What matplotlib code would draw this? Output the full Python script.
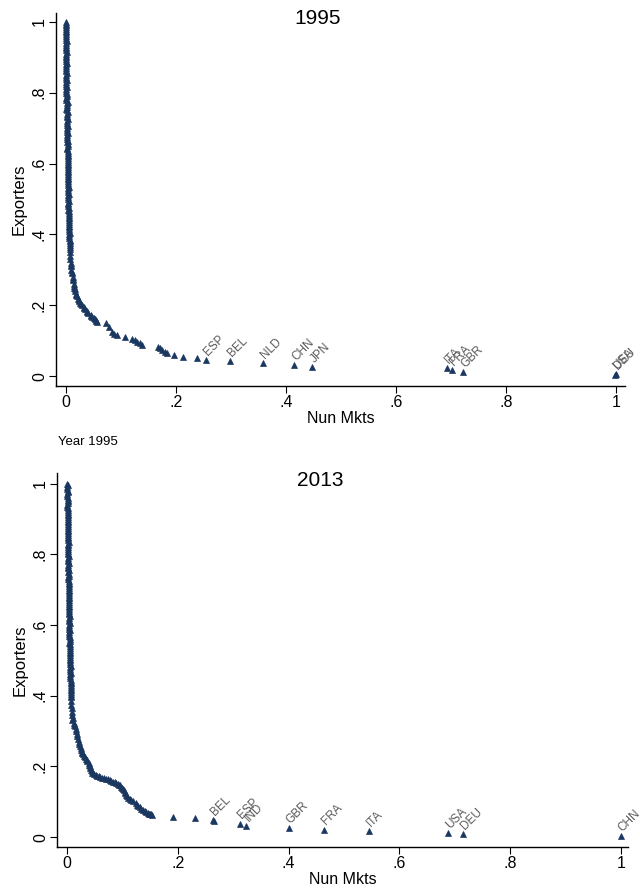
import matplotlib
matplotlib.use("Agg")
import matplotlib.pyplot as plt

plt.rcParams['font.family'] = ['Liberation Sans', 'DejaVu Sans']

# ---------------- 1995 data ----------------
x95 = [0.000, 0.000, 0.001, 0.000, 0.001, 0.001, 0.000, 0.001, 0.001, 0.001,
       0.001, 0.001, 0.001, 0.001, 0.001, 0.001, 0.001, 0.001, 0.001, 0.001,
       0.001, 0.002, 0.001, 0.002, 0.002, 0.002, 0.002, 0.002, 0.002, 0.002,
       0.002, 0.002, 0.002, 0.002, 0.002, 0.003, 0.002, 0.003, 0.003, 0.003,
       0.003, 0.003, 0.003, 0.003, 0.003, 0.003, 0.004, 0.003, 0.004, 0.004,
       0.004, 0.004, 0.004, 0.004, 0.005, 0.005, 0.005, 0.005, 0.005, 0.006,
       0.006, 0.006, 0.007, 0.007, 0.007, 0.008, 0.008, 0.008, 0.009, 0.009,
       0.010, 0.011, 0.012, 0.013, 0.014, 0.015, 0.017, 0.018, 0.020, 0.022,
       0.024, 0.026, 0.029, 0.032, 0.035, 0.038, 0.041, 0.045, 0.048, 0.051,
       0.054, 0.057, 0.072, 0.078, 0.084, 0.088, 0.093, 0.108, 0.120, 0.125,
       0.129, 0.134, 0.138, 0.167, 0.171, 0.175, 0.180, 0.184, 0.196, 0.213,
       0.238]
y95 = [1.000, 0.990, 0.980, 0.970, 0.960, 0.950, 0.940, 0.930, 0.920, 0.910,
       0.900, 0.890, 0.880, 0.870, 0.860, 0.850, 0.840, 0.830, 0.820, 0.810,
       0.800, 0.790, 0.780, 0.770, 0.760, 0.750, 0.740, 0.730, 0.720, 0.710,
       0.700, 0.690, 0.680, 0.670, 0.660, 0.650, 0.640, 0.630, 0.620, 0.610,
       0.600, 0.590, 0.580, 0.570, 0.560, 0.550, 0.540, 0.530, 0.520, 0.510,
       0.500, 0.490, 0.480, 0.470, 0.460, 0.450, 0.440, 0.430, 0.420, 0.410,
       0.400, 0.390, 0.380, 0.370, 0.360, 0.350, 0.340, 0.330, 0.320, 0.310,
       0.300, 0.290, 0.280, 0.270, 0.260, 0.250, 0.240, 0.232, 0.225, 0.218,
       0.212, 0.206, 0.200, 0.194, 0.188, 0.183, 0.178, 0.173, 0.168, 0.163,
       0.158, 0.153, 0.149, 0.139, 0.125, 0.120, 0.116, 0.109, 0.106, 0.101,
       0.097, 0.092, 0.088, 0.083, 0.078, 0.073, 0.069, 0.066, 0.059, 0.055,
       0.050]
# further small exporters filling the dense column (1995)
x95b = [0.001, 0.000, 0.001, 0.000, 0.001, 0.002, 0.000, 0.001, 0.002, 0.001,
        0.000, 0.002, 0.001, 0.001, 0.002, 0.001, 0.002, 0.001, 0.002, 0.001,
        0.002, 0.001, 0.003, 0.002, 0.001, 0.003, 0.002, 0.003, 0.002, 0.003,
        0.002, 0.003, 0.002, 0.003, 0.003, 0.002, 0.003, 0.004, 0.003, 0.004,
        0.003, 0.004, 0.003, 0.004, 0.004, 0.003, 0.005, 0.004, 0.005, 0.004,
        0.005, 0.004, 0.005, 0.006, 0.005, 0.006, 0.005, 0.006, 0.006, 0.007,
        0.006, 0.007, 0.007, 0.008,
        0.0095, 0.0105, 0.0125, 0.0145, 0.016, 0.019, 0.023, 0.027, 0.033,
        0.039, 0.046, 0.052, 0.055]
y95b = [0.995, 0.985, 0.975, 0.965, 0.955, 0.945, 0.935, 0.925, 0.915, 0.905,
        0.895, 0.885, 0.875, 0.865, 0.855, 0.845, 0.835, 0.825, 0.815, 0.805,
        0.795, 0.785, 0.775, 0.765, 0.755, 0.745, 0.735, 0.725, 0.715, 0.705,
        0.695, 0.685, 0.675, 0.665, 0.655, 0.645, 0.635, 0.625, 0.615, 0.605,
        0.595, 0.585, 0.575, 0.565, 0.555, 0.545, 0.535, 0.525, 0.515, 0.505,
        0.495, 0.485, 0.475, 0.465, 0.455, 0.445, 0.435, 0.425, 0.415, 0.405,
        0.395, 0.385, 0.375, 0.365,
        0.315, 0.295, 0.275, 0.255, 0.245, 0.228, 0.215, 0.203, 0.191,
        0.180, 0.170, 0.160, 0.155]
lab95 = ["ESP", "BEL", "NLD", "CHN", "JPN", "ITA", "FRA", "GBR", "DEU", "USA"]
lx95 = [0.255, 0.298, 0.358, 0.415, 0.448, 0.692, 0.701, 0.722, 1.000, 0.998]
ly95 = [0.045, 0.042, 0.036, 0.031, 0.026, 0.022, 0.017, 0.012, 0.006, 0.004]

# ---------------- 2013 data ----------------
x13 = [0.000, 0.000, 0.001, 0.000, 0.001, 0.001, 0.000, 0.001, 0.001, 0.001,
       0.001, 0.001, 0.001, 0.001, 0.001, 0.002, 0.001, 0.002, 0.002, 0.002,
       0.002, 0.002, 0.002, 0.002, 0.002, 0.002, 0.003, 0.002, 0.003, 0.003,
       0.003, 0.003, 0.003, 0.003, 0.003, 0.003, 0.004, 0.003, 0.004, 0.004,
       0.004, 0.004, 0.004, 0.004, 0.005, 0.004, 0.005, 0.005, 0.005, 0.005,
       0.005, 0.005, 0.006, 0.006, 0.006, 0.006, 0.007, 0.007, 0.007, 0.008,
       0.008, 0.009, 0.012, 0.015, 0.017, 0.019, 0.021, 0.023, 0.026, 0.028,
       0.031, 0.034, 0.037, 0.039, 0.041, 0.043, 0.046, 0.052, 0.058, 0.063,
       0.070, 0.077, 0.083, 0.089, 0.094, 0.098, 0.101, 0.104, 0.107, 0.110,
       0.116, 0.125, 0.129, 0.134, 0.140, 0.146, 0.150, 0.154, 0.191, 0.231,
       0.266]
y13 = [1.000, 0.990, 0.980, 0.970, 0.960, 0.950, 0.940, 0.930, 0.920, 0.910,
       0.900, 0.890, 0.880, 0.870, 0.860, 0.850, 0.840, 0.830, 0.820, 0.810,
       0.800, 0.790, 0.780, 0.770, 0.760, 0.750, 0.740, 0.730, 0.720, 0.710,
       0.700, 0.690, 0.680, 0.670, 0.660, 0.650, 0.640, 0.630, 0.620, 0.610,
       0.600, 0.590, 0.580, 0.570, 0.560, 0.550, 0.540, 0.530, 0.520, 0.510,
       0.500, 0.490, 0.480, 0.470, 0.460, 0.450, 0.440, 0.430, 0.420, 0.410,
       0.400, 0.332, 0.322, 0.313, 0.300, 0.285, 0.270, 0.258, 0.246, 0.238,
       0.230, 0.222, 0.214, 0.209, 0.200, 0.190, 0.181, 0.175, 0.172, 0.168,
       0.165, 0.162, 0.157, 0.153, 0.148, 0.143, 0.136, 0.129, 0.120, 0.110,
       0.106, 0.096, 0.088, 0.080, 0.073, 0.068, 0.065, 0.063, 0.058, 0.054,
       0.045]
# further small exporters filling the dense column (2013)
x13b = [0.001, 0.000, 0.001, 0.000, 0.002, 0.001, 0.000, 0.002, 0.001, 0.002,
        0.001, 0.002, 0.001, 0.002, 0.001, 0.002, 0.003, 0.002, 0.001, 0.002,
        0.003, 0.002, 0.003, 0.002, 0.004, 0.003, 0.002, 0.003, 0.004, 0.003,
        0.004, 0.003, 0.004, 0.003, 0.004, 0.003, 0.004, 0.005, 0.004, 0.005,
        0.004, 0.005, 0.004, 0.006, 0.005, 0.006, 0.005, 0.006, 0.005, 0.006,
        0.006, 0.007, 0.006, 0.007, 0.006, 0.007, 0.007, 0.008, 0.007, 0.008,
        0.008, 0.008, 0.008, 0.009, 0.009, 0.009, 0.010,
        0.0135, 0.016, 0.018, 0.020, 0.022, 0.0245, 0.027, 0.0295, 0.0325,
        0.0355, 0.040, 0.042, 0.0445, 0.049, 0.055, 0.0605, 0.0665, 0.0735,
        0.080, 0.086, 0.0915, 0.096, 0.0995, 0.1025, 0.1055, 0.1085, 0.113,
        0.120, 0.127, 0.1315, 0.137, 0.143, 0.148, 0.152]
y13b = [0.995, 0.985, 0.975, 0.965, 0.955, 0.945, 0.935, 0.925, 0.915, 0.905,
        0.895, 0.885, 0.875, 0.865, 0.855, 0.845, 0.835, 0.825, 0.815, 0.805,
        0.795, 0.785, 0.775, 0.765, 0.755, 0.745, 0.735, 0.725, 0.715, 0.705,
        0.695, 0.685, 0.675, 0.665, 0.655, 0.645, 0.635, 0.625, 0.615, 0.605,
        0.595, 0.585, 0.575, 0.565, 0.555, 0.545, 0.535, 0.525, 0.515, 0.505,
        0.495, 0.485, 0.475, 0.465, 0.455, 0.445, 0.435, 0.425, 0.415, 0.405,
        0.395, 0.385, 0.375, 0.365, 0.355, 0.345, 0.338,
        0.318, 0.306, 0.292, 0.277, 0.264, 0.252, 0.242, 0.234, 0.226,
        0.218, 0.205, 0.195, 0.186, 0.178, 0.173, 0.170, 0.167, 0.163,
        0.160, 0.155, 0.150, 0.146, 0.140, 0.133, 0.125, 0.115, 0.108,
        0.101, 0.092, 0.084, 0.077, 0.070, 0.066, 0.064]
lab13 = ["BEL", "ESP", "IND", "GBR", "FRA", "ITA", "USA", "DEU", "CHN"]
lx13 = [0.263, 0.312, 0.324, 0.400, 0.464, 0.545, 0.688, 0.715, 1.000]
ly13 = [0.048, 0.038, 0.031, 0.025, 0.021, 0.016, 0.011, 0.008, 0.002]

xticks = [0, 0.2, 0.4, 0.6, 0.8, 1.0]
xticklabels = ["0", ".2", ".4", ".6", ".8", "1"]
yticks = [0, 0.2, 0.4, 0.6, 0.8, 1.0]
yticklabels = ["0", ".2", ".4", ".6", ".8", "1"]

NAVY = "#1a3760"
GREY = "#5a5a5a"

fig = plt.figure(figsize=(6.4, 8.89), dpi=100)
W, H = 640.0, 889.0


def make_ax(left, right, top, bottom):
    return fig.add_axes([left / W, 1 - bottom / H, (right - left) / W, (bottom - top) / H])


def style(ax, xlim, ylim):
    ax.set_xlim(*xlim)
    ax.set_ylim(*ylim)
    for s in ("top", "right"):
        ax.spines[s].set_visible(False)
    for s in ("left", "bottom"):
        ax.spines[s].set_linewidth(1.0)
    ax.set_xticks(xticks)
    ax.set_xticklabels(xticklabels, fontsize=11.5)
    ax.set_yticks(yticks)
    ax.set_yticklabels(yticklabels, fontsize=11.5, rotation=90, va="center")
    ax.tick_params(direction="out", length=5, width=0.8, pad=1.5)
    ax.set_xlabel("Nun Mkts", fontsize=11.5, labelpad=1)
    ax.set_ylabel("Exporters", fontsize=12, labelpad=4)


def draw(ax, xs, ys, lab, lx, ly):
    ax.plot(xs, ys, marker="^", ms=4.6, mew=0.5, color=NAVY, mec=NAVY,
            ls="none", clip_on=False)
    ax.plot(lx, ly, marker="^", ms=4.6, mew=0.5, color=NAVY, mec=NAVY,
            ls="none", clip_on=False)
    for t, xx, yy in zip(lab, lx, ly):
        ax.annotate(t, (xx, yy), xytext=(3, 1.5), textcoords="offset points",
                    rotation=45, rotation_mode="anchor", ha="left", va="bottom",
                    fontsize=8.5, color=GREY, annotation_clip=False)


ax1 = make_ax(56, 625, 13, 386)
style(ax1, (-0.018, 1.016), (-0.028, 1.025))
draw(ax1, x95 + x95b, y95 + y95b, lab95, lx95, ly95)
fig.text(318 / W, 1 - 19 / H, "1995", ha="center", va="center", fontsize=15)

fig.text(58 / W, 1 - 442 / H, "Year 1995", ha="left", va="center", fontsize=9.5)

ax2 = make_ax(57, 628, 473, 847)
style(ax2, (-0.018, 1.013), (-0.028, 1.03))
draw(ax2, x13 + x13b, y13 + y13b, lab13, lx13, ly13)
fig.text(320 / W, 1 - 480 / H, "2013", ha="center", va="center", fontsize=15)

fig.savefig("out.png", dpi=100)
